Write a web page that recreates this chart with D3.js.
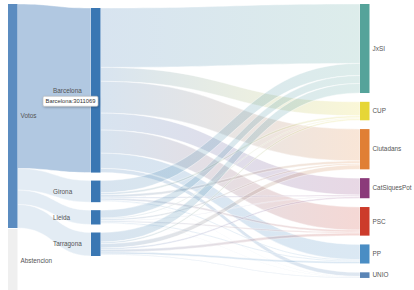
<!DOCTYPE html>
<html>
<head>
<meta charset="utf-8">
<script src="https://cdn.jsdelivr.net/npm/d3@7"></script>
<style>
  html, body { margin: 0; padding: 0; background: #fff; }
  svg { display: block; font-family: "Liberation Sans", Arial, sans-serif; }
  .label { font-size: 6.4px; fill: #555; }
  .tip { font-size: 5.8px; fill: #333; }
</style>
</head>
<body>
<svg id="chart" width="414" height="290"></svg>
<script>
// source column
const sources = ['Votos', 'Abstencion'];
const abstencion = 1150000;

// provinces (middle column) and votes received from "Votos"
const provinces = ['Barcelona', 'Girona', 'Lleida', 'Tarragona'];
const provinceVotes = [3011069, 395000, 262000, 430000];

// parties (right column)
const parties = ['JxSI', 'CUP', 'Ciutadans', 'CatSiquesPot', 'PSC', 'PP', 'UNIO'];
const barcelonaVotes = [1086714, 254794, 582364, 309613, 423283, 277693, 75870];
const gironaVotes    = [222000, 36000, 46000, 21000, 33000, 18000, 8500];
const lleidaVotes    = [145000, 17000, 28000, 10000, 21000, 17500, 7000];
const tarragonaVotes = [175000, 30000, 80000, 27000, 46000, 36000, 11500];
const partyVotesByProvince = [barcelonaVotes, gironaVotes, lleidaVotes, tarragonaVotes];

const partyColors = ['#55a39a', '#e6d636', '#e07f35', '#8b3a7a', '#cc3b2b', '#4a8dc4', '#5a85b6'];
const votosColor = '#5b8cc0';
const abstColor = '#efefef';
const provinceColor = '#3a77b3';
const hovered = 'Barcelona';

const svg = d3.select('#chart');
const nodeWidth = 9.5;
const colX = d3.scaleOrdinal().domain([0, 1, 2]).range([8, 91, 360]);
const colTop = [4, 8, 4];
const colPad = [1, 8, 8.8];

const votosTotal = d3.sum(provinceVotes);
const ky = d3.scaleLinear().domain([0, votosTotal]).range([0, 224]);

// nodes
const nodes = [];
nodes.push({ name: 'Votos', col: 0, value: votosTotal, color: votosColor });
nodes.push({ name: 'Abstencion', col: 0, value: abstencion, color: abstColor });
provinces.forEach((p, i) => nodes.push({ name: p, col: 1, value: Math.max(provinceVotes[i], d3.sum(partyVotesByProvince[i])), color: provinceColor }));
parties.forEach((p, j) => nodes.push({ name: p, col: 2, value: d3.sum(partyVotesByProvince, v => v[j]), color: partyColors[j] }));
const byName = new Map(nodes.map(n => [n.name, n]));

// stack nodes in each column
[0, 1, 2].forEach(c => {
  let y = colTop[c];
  nodes.filter(n => n.col === c).forEach(n => {
    n.x0 = colX(c);
    n.x1 = n.x0 + nodeWidth;
    n.y0 = y;
    n.y1 = y + ky(n.value);
    n.outY = n.y0;
    n.inY = n.y0;
    y = n.y1 + colPad[c];
  });
});

// links
const links = [];
provinces.forEach((p, i) => links.push({ source: byName.get('Votos'), target: byName.get(p), value: provinceVotes[i] }));
provinces.forEach((p, i) => parties.forEach((q, j) => links.push({ source: byName.get(p), target: byName.get(q), value: partyVotesByProvince[i][j] })));
links.forEach(l => {
  const w = ky(l.value);
  l.sy0 = l.source.outY; l.sy1 = l.sy0 + w; l.source.outY += w;
  l.ty0 = l.target.inY; l.ty1 = l.ty0 + w; l.target.inY += w;
});

function bandPath(l) {
  const x0 = l.source.x1, x1 = l.target.x0, xm = (x0 + x1) / 2;
  return `M${x0},${l.sy0}C${xm},${l.sy0} ${xm},${l.ty0} ${x1},${l.ty0}` +
         `L${x1},${l.ty1}C${xm},${l.ty1} ${xm},${l.sy1} ${x0},${l.sy1}Z`;
}

const defs = svg.append('defs');
links.forEach((l, i) => {
  const g = defs.append('linearGradient')
    .attr('id', 'lg' + i)
    .attr('gradientUnits', 'userSpaceOnUse')
    .attr('x1', l.source.x1).attr('x2', l.target.x0);
  g.append('stop').attr('offset', '0%').attr('stop-color', l.source.color);
  g.append('stop').attr('offset', '100%').attr('stop-color', l.target.color);
});
const shadow = defs.append('filter').attr('id', 'shadow').attr('x', '-20%').attr('y', '-40%').attr('width', '140%').attr('height', '180%');
shadow.append('feDropShadow').attr('dx', 0.5).attr('dy', 0.8).attr('stdDeviation', 0.8).attr('flood-opacity', 0.3);

svg.append('g')
  .selectAll('path')
  .data(links)
  .join('path')
  .attr('d', bandPath)
  .attr('fill', (d, i) => d.source.col === 0 ? votosColor : `url(#lg${i})`)
  .attr('fill-opacity', d => d.source.col === 0 ? (d.target.name === hovered ? 0.48 : 0.17) : 0.2)
  .attr('stroke', '#fff')
  .attr('stroke-width', 0.6)
  .attr('stroke-opacity', 0.7);

svg.append('g')
  .selectAll('rect')
  .data(nodes)
  .join('rect')
  .attr('x', d => d.x0)
  .attr('y', d => d.y0)
  .attr('width', d => d.x1 - d.x0)
  .attr('height', d => d.y1 - d.y0)
  .attr('fill', d => d.color);

// labels
const labelX = d => d.col === 1 ? d.x0 - 38 : d.x1 + 3;
svg.append('g')
  .selectAll('text')
  .data(nodes)
  .join('text')
  .attr('class', 'label')
  .attr('x', labelX)
  .attr('y', d => (d.y0 + d.y1) / 2)
  .attr('dy', '0.35em')
  .text(d => d.name);

// tooltip of hovered node
const hn = byName.get(hovered);
const tip = svg.append('g')
  .attr('transform', `translate(${hn.x0 - 48},${(hn.y0 + hn.y1) / 2 + 6})`);
const tipText = `${hovered}:${provinceVotes[provinces.indexOf(hovered)]}`;
tip.append('rect')
  .attr('width', 55).attr('height', 10).attr('rx', 1.5)
  .attr('fill', '#fff').attr('stroke', '#bbb').attr('stroke-width', 0.6)
  .attr('filter', 'url(#shadow)');
tip.append('text')
  .attr('class', 'tip')
  .attr('x', 27.5).attr('y', 5).attr('dy', '0.35em')
  .attr('text-anchor', 'middle')
  .text(tipText);
</script>
</body>
</html>
